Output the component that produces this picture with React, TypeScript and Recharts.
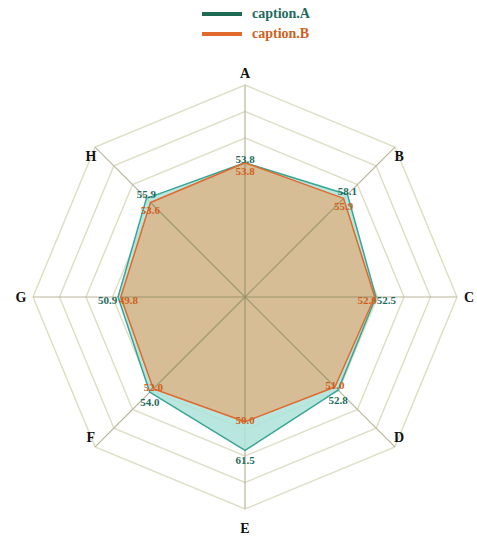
import React from 'react';
import { RadarChart, Radar, PolarGrid, PolarAngleAxis, PolarRadiusAxis } from 'recharts';

const categories = ['A', 'B', 'C', 'D', 'E', 'F', 'G', 'H'];
const seriesA = [53.8, 58.1, 52.5, 52.8, 61.5, 54.0, 50.9, 55.9];
const seriesB = [53.8, 55.9, 52.0, 51.0, 50.0, 52.0, 49.8, 53.6];
const seriesNames = ['caption.A', 'caption.B'];

const data = categories.map((c, i) => ({ name: c, a: seriesA[i], b: seriesB[i] }));

const W = 477;
const H = 538;
const CX = 245;
const CY = 297;
const R = 212;
const RINGS = 8;
const ringRadii = Array.from({ length: RINGS }, (_, i) => (R * (i + 1)) / RINGS);

const COLOR_A_STROKE = '#3aa595';
const COLOR_A_FILL = '#ade3d9';
const COLOR_A_TEXT = '#1e6b5c';
const COLOR_B_STROKE = '#e0692e';
const COLOR_B_FILL = '#e0ad78';
const COLOR_B_TEXT = '#cf5f1c';
const SPOKE = '#8e8c66';
const SERIF = '"Liberation Serif", "DejaVu Serif", serif';

const AngleTick = (props: any) => {
  const { x, y, payload } = props;
  const dx = x - CX;
  const dy = y - CY;
  const len = Math.sqrt(dx * dx + dy * dy) || 1;
  const c = dx / len;
  const s = dy / len;
  const diagonal = Math.abs(c) > 0.2 && Math.abs(s) > 0.2;
  const rx = diagonal ? 218 : 224;
  const ry = diagonal ? 198 : s > 0 ? 231 : 224;
  return (
    <text
      x={CX + rx * c}
      y={CY + ry * s}
      textAnchor="middle"
      dominantBaseline="central"
      fontFamily={SERIF}
      fontWeight="bold"
      fontSize={14}
      fill="#111"
    >
      {payload.value}
    </text>
  );
};

const makeLabelDot = (values: number[], color: string, outward: number) => (props: any) => {
  const { cx, cy, index } = props;
  const v = values[index];
  const dy = cy - CY;
  const dx = cx - CX;
  const vert = Math.abs(dy) > 5 ? Math.sign(dy) : 0;
  const horiz = vert === 0 ? Math.sign(dx) : 0;
  return (
    <text
      key={`lbl-${color}-${index}`}
      x={cx + horiz * outward * 1.5}
      y={cy + 3 + vert * outward}
      textAnchor="middle"
      dominantBaseline="central"
      fontFamily={SERIF}
      fontWeight="bold"
      fontSize={11}
      fill={color}
    >
      {v.toFixed(1)}
    </text>
  );
};

const makeShape = (withSpokes: boolean) => (props: any) => {
  const pts: any[] = props.points || [];
  const poly = pts.map((p) => `${p.x},${p.y}`).join(' ');
  return (
    <g>
      <polygon
        points={poly}
        fill={props.fill}
        fillOpacity={props.fillOpacity}
        stroke="none"
      />
      {withSpokes &&
        pts.map((p, i) => (
          <line
            key={`sp-${i}`}
            x1={CX}
            y1={CY}
            x2={p.x}
            y2={p.y}
            stroke={SPOKE}
            strokeWidth={1.2}
            strokeOpacity={0.75}
          />
        ))}
      <polygon
        points={poly}
        fill="none"
        stroke={props.stroke}
        strokeWidth={props.strokeWidth}
        strokeLinejoin="round"
      />
    </g>
  );
};

const LegendBox = () => (
  <div
    style={{
      position: 'absolute',
      left: 202,
      top: 4,
      fontFamily: SERIF,
      fontWeight: 'bold',
      fontSize: 14,
      lineHeight: '20px',
    }}
  >
    {seriesNames.map((n, i) => (
      <div key={n} style={{ display: 'flex', alignItems: 'center', height: 20 }}>
        <div
          style={{
            width: 40,
            height: 4,
            background: i === 0 ? '#1f6a55' : COLOR_B_STROKE,
            marginRight: 10,
          }}
        />
        <span style={{ color: i === 0 ? COLOR_A_TEXT : COLOR_B_TEXT }}>{n}</span>
      </div>
    ))}
  </div>
);

export default function App() {
  return (
    <div style={{ position: 'relative', width: W, height: H, background: '#fff' }}>
      <style>{`body{margin:0;background:#fff}`}</style>
      <RadarChart
        width={W}
        height={H}
        data={data}
        cx={CX}
        cy={CY}
        outerRadius={R}
        margin={{ top: 0, right: 0, bottom: 0, left: 0 }}
      >
        <PolarGrid
          gridType="polygon"
          stroke="#dedfc6"
          strokeWidth={1.5}
          radialLines={false}
          polarRadius={ringRadii}
        />
        <PolarGrid
          gridType="polygon"
          stroke="#b7b69c"
          strokeWidth={1.2}
          polarRadius={[0.01]}
        />
        <PolarAngleAxis dataKey="name" tick={AngleTick} tickLine={false} axisLine={false} />
        <PolarRadiusAxis domain={[0, 85]} tick={false} axisLine={false} />
        <Radar
          name={seriesNames[0]}
          dataKey="a"
          stroke={COLOR_A_STROKE}
          strokeWidth={1.5}
          fill={COLOR_A_FILL}
          fillOpacity={0.85}
          isAnimationActive={false}
          shape={makeShape(false)}
          dot={makeLabelDot(seriesA, COLOR_A_TEXT, 7)}
        />
        <Radar
          name={seriesNames[1]}
          dataKey="b"
          stroke={COLOR_B_STROKE}
          strokeWidth={1.5}
          fill={COLOR_B_FILL}
          fillOpacity={0.72}
          isAnimationActive={false}
          shape={makeShape(true)}
          dot={makeLabelDot(seriesB, COLOR_B_TEXT, -5)}
        />
      </RadarChart>
      <LegendBox />
    </div>
  );
}
